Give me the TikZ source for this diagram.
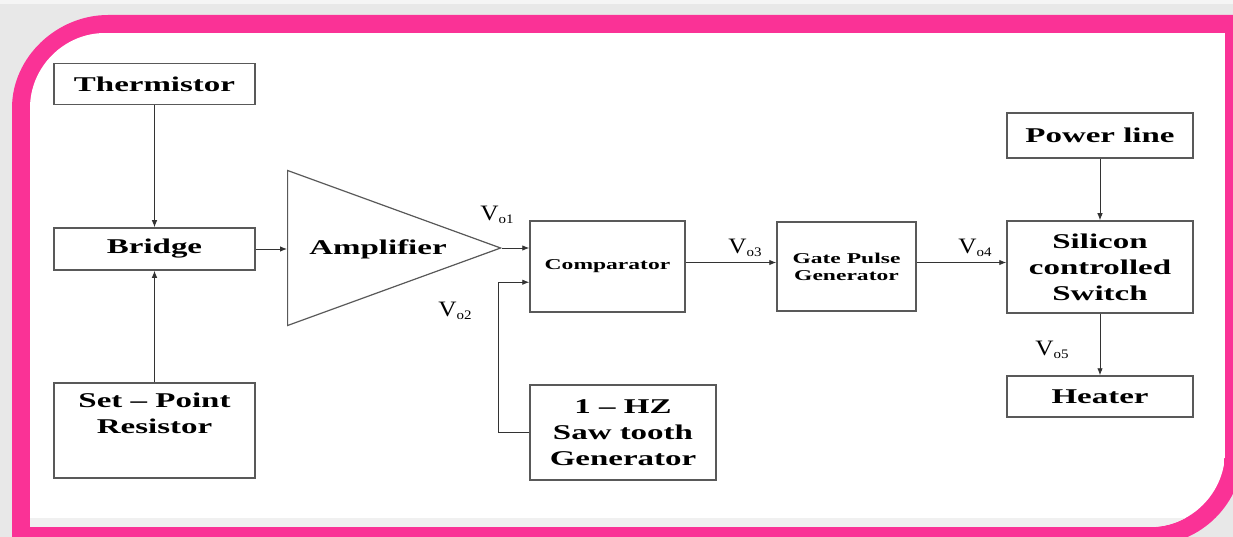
\documentclass[tikz,border=0pt]{standalone}
\usepackage{fontspec}
\setmainfont{Liberation Serif}
\newfontfamily\blockfont{Liberation Serif}[FakeStretch=1.57, Ligatures=TeX]
\newfontfamily\vfont{Liberation Serif}[FakeStretch=1.15]
\usepackage{xcolor}
\definecolor{framePink}{RGB}{250,50,150}
\colorlet{boxLine}{black!65}
\usetikzlibrary{arrows.meta, positioning, calc, shapes.geometric}
\newcommand{\vout}[1]{V\raisebox{-3pt}{\fontsize{13}{13}\selectfont o#1}}
\tikzset{
	blockbox/.style={draw=boxLine, line width=1.5pt, minimum width=201pt, align=center, inner sep=0pt, font=\blockfont\bfseries\fontsize{21}{26}\selectfont},
	smallbox/.style={draw=boxLine, line width=1.5pt, align=center, inner sep=0pt, font=\blockfont\bfseries\fontsize{15}{17}\selectfont},
	ampshape/.style={isosceles triangle, isosceles triangle stretches, shape border rotate=0, draw=boxLine, line width=1.2pt, inner sep=0pt, minimum width=155pt, minimum height=213pt},
	conn/.style={-{Latex[length=7pt,width=5.5pt]}, line width=0.9pt, black!80},
	vlabel/.style={font=\vfont\fontsize{22}{22}\selectfont, inner sep=0pt},
}

\begin{document}
\begin{tikzpicture}[x=1pt, y=-1pt]
	\useasboundingbox (0,0) rectangle (1233,537);
	\clip (0,0) rectangle (1233,537);

	% pink frame with shadow
	\fill[gray!18] (0,0) rectangle (1233,537);
	\fill[gray!8] (0,0) rectangle (1233,4);
	\fill[framePink] (12,545) -- (12,108) .. controls (12,57) and (57,15) .. (108,15) -- (1243,15) -- (1243,452) .. controls (1243,503) and (1201,545) .. (1150,545) -- cycle;
	\begin{scope}
		\clip (30,527) -- (30,108) .. controls (30,67) and (64,33) .. (105,33) -- (1225,33) -- (1225,452) .. controls (1225,493) and (1191,527) .. (1150,527) -- cycle;
		\fill[white] (30,33) rectangle (1225,527);
		\fill[gray!12] (30,518) rectangle (1225,527);
	\end{scope}

	% left column
	\node[blockbox, minimum height=41pt] (therm) at (154.5,84) {Thermistor};
	\node[blockbox, minimum height=42pt] (bridge) at (154.5,249) {Bridge};
	\node[blockbox, minimum height=95pt] (setpt) at (154.5,430.5) {Set – Point\\Resistor\\\strut};

	% amplifier
	\node[ampshape, anchor=west] (amp) at (287,248) {};
	\node[font=\blockfont\bfseries\fontsize{21}{26}\selectfont] (ampText) at (378,249) {Amplifier};

	% comparator and saw tooth
	\node[smallbox, minimum width=155pt, minimum height=91pt] (comp) at (607.5,266.5) {Comparator};
	\node[blockbox, minimum width=186pt, minimum height=95pt] (saw) at (623,432.5) {1 – HZ\\Saw tooth\\Generator};

	% gate pulse
	\node[smallbox, minimum width=139pt, minimum height=89pt] (gate) at (846.5,266.5) {Gate Pulse\\Generator};

	% right column
	\node[blockbox, minimum width=186pt, minimum height=45pt] (power) at (1100,135.5) {Power line};
	\node[blockbox, minimum width=186pt, minimum height=92pt] (scr) at (1100,267) {Silicon\\controlled\\Switch};
	\node[blockbox, minimum width=186pt, minimum height=41pt] (heater) at (1100,396.5) {Heater};

	% connections
	\coordinate (compOut) at ($(comp.east)+(0,-4)$);
	\coordinate (gateOut) at ($(gate.east)+(0,-4)$);
	\draw[conn] (therm) -- (bridge);
	\draw[conn] (setpt) -- (bridge);
	\draw[conn] (bridge.east) -- (bridge.east -| amp.west);
	\draw[conn] (amp.apex) -- (amp.apex -| comp.west);
	\draw[conn] (saw.west) -- ++(-31,0) |- ($(comp.north west)!0.67!(comp.south west)$);
	\draw[conn] (compOut) -- (compOut -| gate.west);
	\draw[conn] (gateOut) -- (gateOut -| scr.west);
	\draw[conn] (power) -- (scr);
	\draw[conn] (scr) -- (heater);

	% voltage labels
	\node[vlabel] (vo1) at (497,215) {\vout{1}};
	\node[vlabel] (vo2) at (455,311) {\vout{2}};
	\node[vlabel] (vo3) at (745,248) {\vout{3}};
	\node[vlabel] (vo4) at (975,248) {\vout{4}};
	\node[vlabel] (vo5) at (1052,350) {\vout{5}};
\end{tikzpicture}
\end{document}
